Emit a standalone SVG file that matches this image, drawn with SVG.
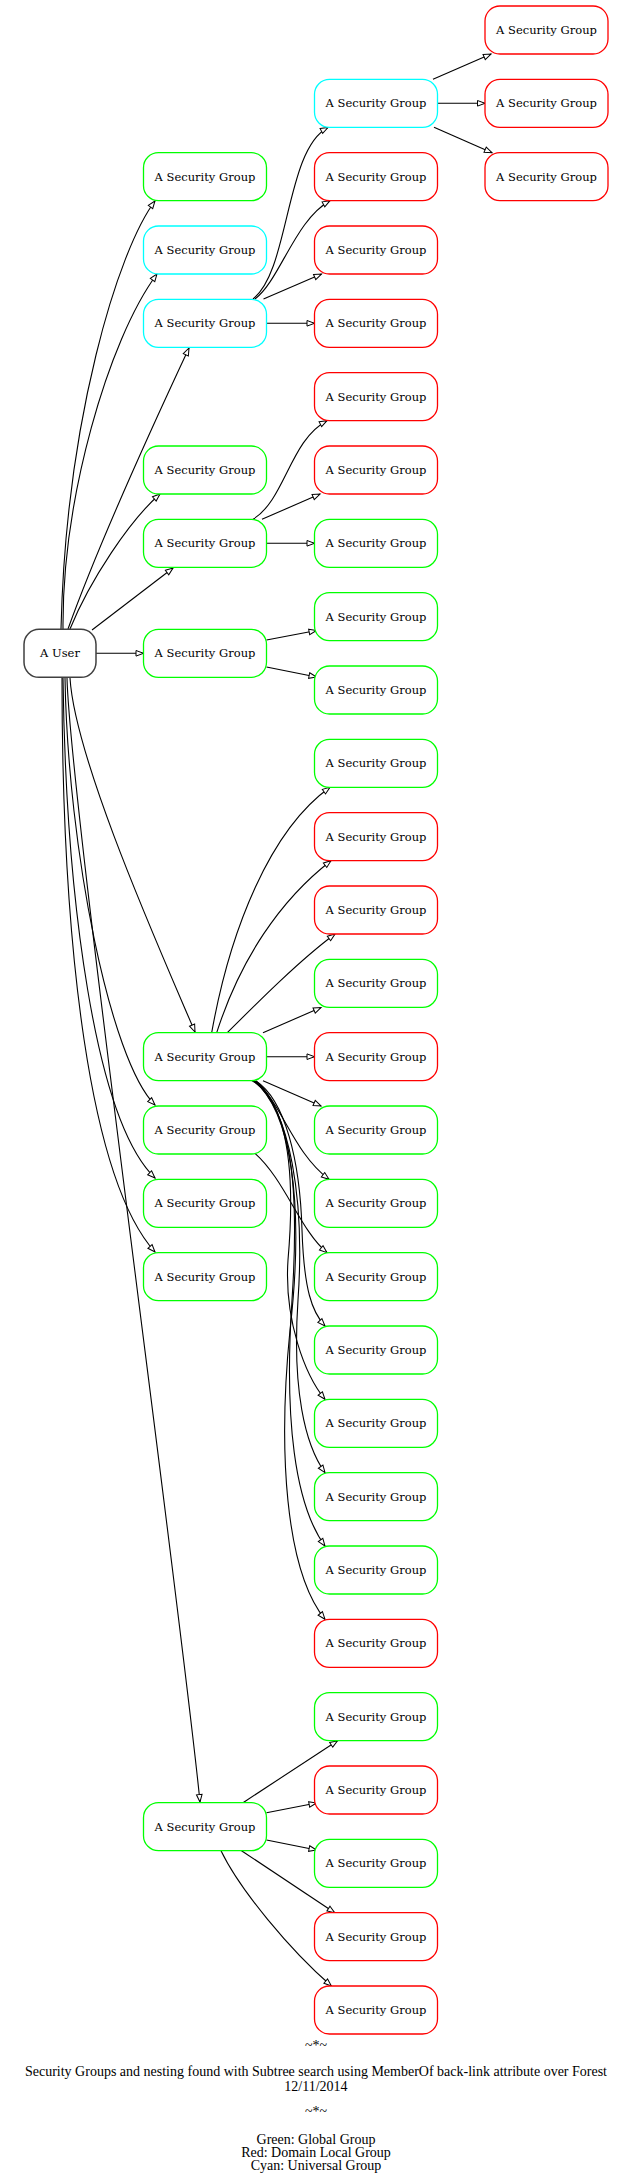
<svg xmlns="http://www.w3.org/2000/svg" width="632" height="2184" viewBox="0 0 632 2184">
<style>
.n rect{fill:#fff;stroke-width:1.3}
.gr rect{stroke:#00ff00}
.rd rect{stroke:#ff0000}
.cy rect{stroke:#00ffff}
.us rect{stroke:#404040;stroke-width:1.5}
.n text{font-family:"DejaVu Serif",serif;font-size:11.5px;text-anchor:middle;fill:#000}
#edges path{fill:none;stroke:#000;stroke-width:1.1;marker-end:url(#a)}
.t{font-family:"Liberation Serif",serif;font-size:14px;text-anchor:middle;fill:#000}
</style>
<defs>
<marker id="a" markerUnits="userSpaceOnUse" markerWidth="10" markerHeight="8" refX="8.5" refY="4" orient="auto" overflow="visible">
<path d="M1,1.2 L8.5,4 L1,6.8 z" fill="#fff" stroke="#000" stroke-width="1"/>
</marker>
</defs>
<rect width="632" height="2184" fill="#fff"/>
<g id="edges">
<path d="M61 629 C66 420 118 250 155 201"/>
<path d="M63 629 C62 500 108 340 157 274"/>
<path d="M68 629 C100 540 160 410 189 348"/>
<path d="M70 629 C90 580 130 520 160 494"/>
<path d="M92 630 L173 568"/>
<path d="M96 653.3 L143.5 653.3"/>
<path d="M70 678 C75 760 160 950 195 1032"/>
<path d="M65 678 C68 850 110 1060 155 1105"/>
<path d="M63 678 C66 900 95 1120 155 1178"/>
<path d="M62 678 C62 950 90 1180 155 1252"/>
<path d="M67 678 C70 800 180 1600 200 1802"/>
<path d="M253 299 C290 270 285 150 328 127.5"/>
<path d="M255 299 C280 280 295 220 330 200.7"/>
<path d="M263.5 299 L321.5 274"/>
<path d="M266.5 323.3 L314.5 323.3"/>
<path d="M433 79.3 L491 54"/>
<path d="M437.5 103.3 L485 103.3"/>
<path d="M434 127.3 L492 152.7"/>
<path d="M253 519.3 C285 500 290 440 327 420.7"/>
<path d="M262 519.3 L320 494"/>
<path d="M266.5 543.3 L314.5 543.3"/>
<path d="M266.5 640 L316.5 630.5"/>
<path d="M266.5 667 L316.5 677"/>
<path d="M211.7 1032.7 C230 930 270 830 330 787.3"/>
<path d="M216.7 1032.7 C240 960 280 900 331 860.7"/>
<path d="M227.3 1032.7 C260 1000 300 960 335 934"/>
<path d="M263 1032.7 L321 1007.5"/>
<path d="M266.5 1056.7 L314.5 1056.7"/>
<path d="M263 1080.7 L321 1106"/>
<path d="M252 1080.7 C280 1095 290 1150 329 1179.3"/>
<path d="M255 1153.3 C285 1180 300 1230 327 1252.7"/>
<path d="M256 1081 C285 1100 300 1160 302 1230 C304 1290 312 1312 325 1326"/>
<path d="M256 1081 C290 1110 295 1180 288 1260 C284 1320 305 1375 325 1399.3"/>
<path d="M255 1081 C290 1110 305 1200 298 1300 C292 1390 305 1445 325 1472.7"/>
<path d="M254 1081 C290 1110 300 1180 292 1300 C284 1420 295 1505 325 1546"/>
<path d="M254 1081 C290 1110 305 1200 290 1330 C278 1450 285 1570 325 1619.3"/>
<path d="M243 1802.7 L337.5 1740.7"/>
<path d="M266.5 1812.7 L316.5 1803"/>
<path d="M266.5 1840 L316.5 1850"/>
<path d="M241.5 1850.7 L334.7 1912.7"/>
<path d="M221 1850.7 C240 1890 290 1950 331.4 1986"/>
</g>
<g id="user" class="n us"><rect x="24" y="629.33" width="72" height="48" rx="15"/><text x="60" y="657.3">A User</text></g>
<g id="c2r2" class="n gr"><rect x="143.5" y="152.67" width="123" height="48" rx="15"/><text x="205" y="180.7">A Security Group</text></g>
<g id="c2r3" class="n cy"><rect x="143.5" y="226" width="123" height="48" rx="15"/><text x="205" y="254">A Security Group</text></g>
<g id="c2r4" class="n cy"><rect x="143.5" y="299.33" width="123" height="48" rx="15"/><text x="205" y="327.3">A Security Group</text></g>
<g id="c2r6" class="n gr"><rect x="143.5" y="446" width="123" height="48" rx="15"/><text x="205" y="474">A Security Group</text></g>
<g id="c2r7" class="n gr"><rect x="143.5" y="519.33" width="123" height="48" rx="15"/><text x="205" y="547.3">A Security Group</text></g>
<g id="c2r8" class="n gr"><rect x="143.5" y="629.33" width="123" height="48" rx="15"/><text x="205" y="657.3">A Security Group</text></g>
<g id="c2r14" class="n gr"><rect x="143.5" y="1032.67" width="123" height="48" rx="15"/><text x="205" y="1060.7">A Security Group</text></g>
<g id="c2r15" class="n gr"><rect x="143.5" y="1106" width="123" height="48" rx="15"/><text x="205" y="1134">A Security Group</text></g>
<g id="c2r16" class="n gr"><rect x="143.5" y="1179.33" width="123" height="48" rx="15"/><text x="205" y="1207.3">A Security Group</text></g>
<g id="c2r17" class="n gr"><rect x="143.5" y="1252.67" width="123" height="48" rx="15"/><text x="205" y="1280.7">A Security Group</text></g>
<g id="c2r24" class="n gr"><rect x="143.5" y="1802.67" width="123" height="48" rx="15"/><text x="205" y="1830.7">A Security Group</text></g>
<g id="c3r1" class="n cy"><rect x="314.5" y="79.33" width="123" height="48" rx="15"/><text x="376" y="107.3">A Security Group</text></g>
<g id="c3r2" class="n rd"><rect x="314.5" y="152.67" width="123" height="48" rx="15"/><text x="376" y="180.7">A Security Group</text></g>
<g id="c3r3" class="n rd"><rect x="314.5" y="226" width="123" height="48" rx="15"/><text x="376" y="254">A Security Group</text></g>
<g id="c3r4" class="n rd"><rect x="314.5" y="299.33" width="123" height="48" rx="15"/><text x="376" y="327.3">A Security Group</text></g>
<g id="c3r5" class="n rd"><rect x="314.5" y="372.67" width="123" height="48" rx="15"/><text x="376" y="400.7">A Security Group</text></g>
<g id="c3r6" class="n rd"><rect x="314.5" y="446" width="123" height="48" rx="15"/><text x="376" y="474">A Security Group</text></g>
<g id="c3r7" class="n gr"><rect x="314.5" y="519.33" width="123" height="48" rx="15"/><text x="376" y="547.3">A Security Group</text></g>
<g id="c3r8" class="n gr"><rect x="314.5" y="592.67" width="123" height="48" rx="15"/><text x="376" y="620.7">A Security Group</text></g>
<g id="c3r9" class="n gr"><rect x="314.5" y="666" width="123" height="48" rx="15"/><text x="376" y="694">A Security Group</text></g>
<g id="c3r10" class="n gr"><rect x="314.5" y="739.33" width="123" height="48" rx="15"/><text x="376" y="767.3">A Security Group</text></g>
<g id="c3r11" class="n rd"><rect x="314.5" y="812.67" width="123" height="48" rx="15"/><text x="376" y="840.7">A Security Group</text></g>
<g id="c3r12" class="n rd"><rect x="314.5" y="886" width="123" height="48" rx="15"/><text x="376" y="914">A Security Group</text></g>
<g id="c3r13" class="n gr"><rect x="314.5" y="959.33" width="123" height="48" rx="15"/><text x="376" y="987.3">A Security Group</text></g>
<g id="c3r14" class="n rd"><rect x="314.5" y="1032.67" width="123" height="48" rx="15"/><text x="376" y="1060.7">A Security Group</text></g>
<g id="c3r15" class="n gr"><rect x="314.5" y="1106" width="123" height="48" rx="15"/><text x="376" y="1134">A Security Group</text></g>
<g id="c3r16" class="n gr"><rect x="314.5" y="1179.33" width="123" height="48" rx="15"/><text x="376" y="1207.3">A Security Group</text></g>
<g id="c3r17" class="n gr"><rect x="314.5" y="1252.67" width="123" height="48" rx="15"/><text x="376" y="1280.7">A Security Group</text></g>
<g id="c3r18" class="n gr"><rect x="314.5" y="1326" width="123" height="48" rx="15"/><text x="376" y="1354">A Security Group</text></g>
<g id="c3r19" class="n gr"><rect x="314.5" y="1399.33" width="123" height="48" rx="15"/><text x="376" y="1427.3">A Security Group</text></g>
<g id="c3r20" class="n gr"><rect x="314.5" y="1472.67" width="123" height="48" rx="15"/><text x="376" y="1500.7">A Security Group</text></g>
<g id="c3r21" class="n gr"><rect x="314.5" y="1546" width="123" height="48" rx="15"/><text x="376" y="1574">A Security Group</text></g>
<g id="c3r22" class="n rd"><rect x="314.5" y="1619.33" width="123" height="48" rx="15"/><text x="376" y="1647.3">A Security Group</text></g>
<g id="c3r23" class="n gr"><rect x="314.5" y="1692.67" width="123" height="48" rx="15"/><text x="376" y="1720.7">A Security Group</text></g>
<g id="c3r24" class="n rd"><rect x="314.5" y="1766" width="123" height="48" rx="15"/><text x="376" y="1794">A Security Group</text></g>
<g id="c3r25" class="n gr"><rect x="314.5" y="1839.33" width="123" height="48" rx="15"/><text x="376" y="1867.3">A Security Group</text></g>
<g id="c3r26" class="n rd"><rect x="314.5" y="1912.67" width="123" height="48" rx="15"/><text x="376" y="1940.7">A Security Group</text></g>
<g id="c3r27" class="n rd"><rect x="314.5" y="1986" width="123" height="48" rx="15"/><text x="376" y="2014">A Security Group</text></g>
<g id="c4r0" class="n rd"><rect x="485" y="6" width="123" height="48" rx="15"/><text x="546.5" y="34">A Security Group</text></g>
<g id="c4r1" class="n rd"><rect x="485" y="79.33" width="123" height="48" rx="15"/><text x="546.5" y="107.3">A Security Group</text></g>
<g id="c4r2" class="n rd"><rect x="485" y="152.67" width="123" height="48" rx="15"/><text x="546.5" y="180.7">A Security Group</text></g>
<g id="legend">
<text class="t" x="316" y="2050">~*~</text>
<text class="t" x="316" y="2076">Security Groups and nesting found with Subtree search using MemberOf back-link attribute over Forest</text>
<text class="t" x="316" y="2091">12/11/2014</text>
<text class="t" x="316" y="2116">~*~</text>
<text class="t" x="316" y="2143.5">Green: Global Group</text>
<text class="t" x="316" y="2156.5">Red: Domain Local Group</text>
<text class="t" x="316" y="2170">Cyan: Universal Group</text>
</g>
</svg>
